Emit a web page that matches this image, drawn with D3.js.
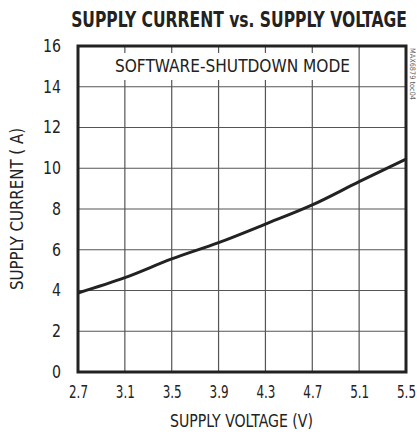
<!DOCTYPE html>
<html><head><meta charset="utf-8">
<script src="https://cdn.jsdelivr.net/npm/d3@7"></script>
<style>
body{margin:0;background:#fff;}
text{font-family:"Liberation Sans Narrow","DejaVu Sans Condensed",sans-serif;}
</style></head>
<body><svg id="c" width="417" height="434"></svg>
<script>
const voltage = [2.7, 3.1, 3.5, 3.9, 4.3, 4.7, 5.1, 5.5];
const current = [3.88, 4.63, 5.55, 6.35, 7.26, 8.2, 9.34, 10.45];
const xTicks = [2.7, 3.1, 3.5, 3.9, 4.3, 4.7, 5.1, 5.5];
const yTicks = [0, 2, 4, 6, 8, 10, 12, 14, 16];
const title = "SUPPLY CURRENT vs. SUPPLY VOLTAGE";
const xTitle = "SUPPLY VOLTAGE (V)";
const yTitle = "SUPPLY CURRENT (  A)";
const note = "SOFTWARE-SHUTDOWN MODE";
const tocId = "MAX6879 toc04";

const svg = d3.select("#c");
const L = 78, R = 406, T = 46, B = 372;
const x = d3.scaleLinear().domain([2.7, 5.5]).range([L, R]);
const y = d3.scaleLinear().domain([0, 16]).range([B, T]);
const ff = '"Liberation Sans Narrow","DejaVu Sans Condensed",sans-serif';

// squeeze a text horizontally to a target width (anchor-relative)
function fitWidth(sel, w) {
  sel.each(function() {
    const n = this.getComputedTextLength();
    const s = Math.min(1, w / n);
    const prev = this.getAttribute("transform") || "";
    this.setAttribute("transform", prev + ` scale(${s},1)`);
  });
}

// grid
svg.append("g").selectAll("line").data(xTicks.slice(1, -1)).join("line")
  .attr("x1", d => x(d)).attr("x2", d => x(d)).attr("y1", T).attr("y2", B)
  .attr("stroke", "#555").attr("stroke-width", 1.2);
svg.append("g").selectAll("line").data(yTicks.slice(1, -1)).join("line")
  .attr("y1", d => y(d)).attr("y2", d => y(d)).attr("x1", L).attr("x2", R)
  .attr("stroke", "#555").attr("stroke-width", 1.2);

// note box
svg.append("rect").attr("x", 108).attr("y", 53).attr("width", 248).attr("height", 27).attr("fill", "#fff");
svg.append("text").attr("x", 115).attr("y", 72)
  .attr("font-size", 17).attr("fill", "#222").attr("textLength", 235).attr("lengthAdjust", "spacingAndGlyphs").text(note);

// curve
svg.append("path").datum(voltage.map((v, i) => [v, current[i]]))
  .attr("d", d3.line().x(d => x(d[0])).y(d => y(d[1])).curve(d3.curveMonotoneX))
  .attr("fill", "none").attr("stroke", "#222").attr("stroke-width", 3);

// frame
svg.append("rect").attr("x", L).attr("y", T).attr("width", R - L).attr("height", B - T)
  .attr("fill", "none").attr("stroke", "#222").attr("stroke-width", 3);

// axes labels
const xa = svg.append("g").attr("transform", `translate(0,${B})`)
  .call(d3.axisBottom(x).tickValues(xTicks).tickSize(0).tickPadding(14).tickFormat(d3.format(".1f")));
xa.select(".domain").remove();
xa.selectAll("text").attr("font-size", 17).attr("fill", "#222").style("font-family", ff);
fitWidth(xa.selectAll("text"), 19);

const ya = svg.append("g").attr("transform", `translate(${L},0)`)
  .call(d3.axisLeft(y).tickValues(yTicks).tickSize(0).tickPadding(17));
ya.select(".domain").remove();
ya.selectAll("text").attr("font-size", 17).attr("fill", "#222").style("font-family", ff)
  .attr("textLength", d => String(d).length * 9).attr("lengthAdjust", "spacingAndGlyphs");

svg.append("text").attr("x", 170).attr("y", 427)
  .attr("font-size", 17).attr("fill", "#222").attr("textLength", 143).attr("lengthAdjust", "spacingAndGlyphs").text(xTitle);
svg.append("text").attr("transform", "translate(23,290) rotate(-90)")
  .attr("font-size", 17).attr("fill", "#222").attr("textLength", 162).attr("lengthAdjust", "spacingAndGlyphs").text(yTitle);

const tt = svg.append("text").attr("transform", "translate(239,27)").attr("text-anchor", "middle")
  .attr("font-size", 22).attr("font-weight", "bold").attr("fill", "#222").text(title);
fitWidth(tt, 336);

svg.append("text").attr("transform", "translate(410,48) rotate(90)")
  .attr("font-size", 7.5).attr("fill", "#666").attr("textLength", 52).attr("lengthAdjust", "spacingAndGlyphs").text(tocId);
</script></body></html>
